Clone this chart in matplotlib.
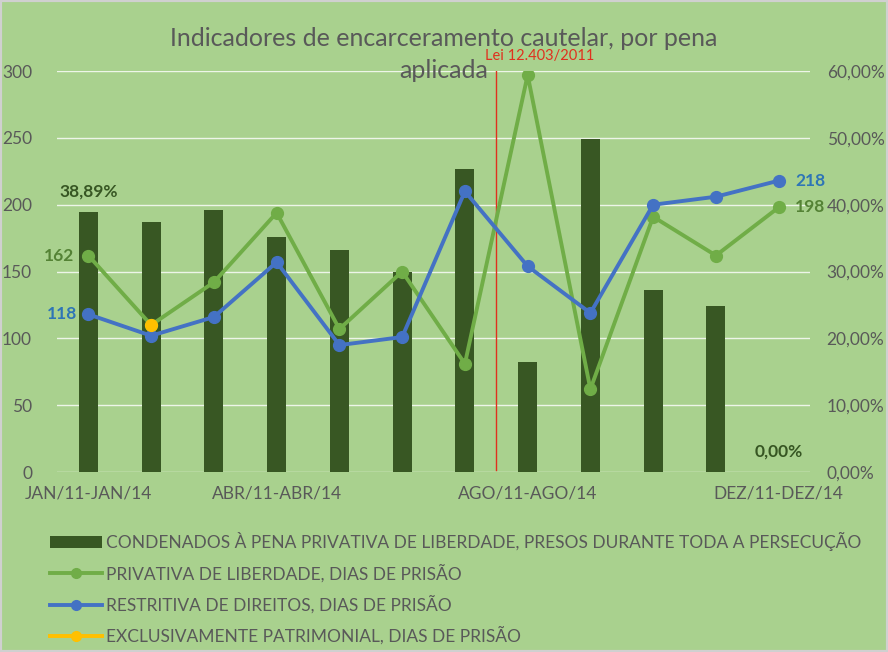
import matplotlib
matplotlib.use('Agg')
import matplotlib.pyplot as plt
from matplotlib.patches import Patch, Rectangle
from matplotlib.lines import Line2D
import numpy as np

plt.rcParams['font.family'] = ['Lato', 'DejaVu Sans']

# data
categories = ['JAN/11-JAN/14', 'FEV', 'MAR', 'ABR/11-ABR/14', 'MAI', 'JUN',
              'JUL', 'AGO/11-AGO/14', 'SET', 'OUT', 'NOV', 'DEZ/11-DEZ/14']
shown_ticks = [0, 3, 7, 11]
condenados_pct = [38.89, 37.4, 39.2, 35.2, 33.2, 30.0, 45.4, 16.4, 49.8, 27.2, 24.8, 0.0]
privativa_dias = [162, 110, 142, 194, 107, 150, 81, 297, 62, 191, 162, 198]
restritiva_dias = [118, 102, 116, 157, 95, 101, 210, 154, 119, 200, 206, 218]
patrimonial_idx = [1]
patrimonial_dias = [110]
lei_pos = 6.5

BG = '#a9d18e'
BAR = '#385723'
GREEN = '#70ad47'
BLUE = '#4472c4'
YELLOW = '#ffc000'
GRAY = '#595959'

fig = plt.figure(figsize=(8.88, 6.52), dpi=100, facecolor=BG)
fig.patches.append(Rectangle((0, 0), 1, 1, transform=fig.transFigure, fill=False,
                             edgecolor='#d0d0d0', linewidth=3))

ax = fig.add_axes([0.0642, 0.276, 0.848, 0.615])
ax.set_facecolor(BG)
x = np.arange(len(categories))

# bars on the percent scale (right side)
ax.bar(x, condenados_pct, width=0.3, color=BAR, zorder=2)
ax.set_ylim(0, 60)
ax.set_xlim(-0.5, len(categories) - 0.5)
ax.set_yticks(range(0, 61, 10))
ax.set_yticklabels([f'{v},00%' for v in range(0, 61, 10)])
ax.grid(axis='y', color='white', linewidth=1, alpha=0.8)
ax.set_axisbelow(True)
ax.set_xticks(shown_ticks)
ax.set_xticklabels([categories[i] for i in shown_ticks])
ax.tick_params(length=0, labelsize=12.5, labelcolor=GRAY)
ax.tick_params(axis='x', pad=10)
for s in ax.spines.values():
    s.set_visible(False)

# lines on the days scale (left side)
ax2 = ax.twinx()
ax2.set_ylim(0, 300)
ax2.yaxis.tick_left()
ax.yaxis.tick_right()
ax.tick_params(axis='y', length=0, labelsize=12.5, labelcolor=GRAY, pad=12)
ax2.set_yticks(range(0, 301, 50))
ax2.tick_params(length=0, labelsize=12.5, labelcolor=GRAY, pad=18)
for s in ax2.spines.values():
    s.set_visible(False)

ax2.axvline(lei_pos, ymin=0.005, ymax=1.0, color='#e0301e', linewidth=1)
ax2.text(lei_pos - 0.18, 306, 'Lei 12.403/2011', color='#e0301e', fontsize=10.5,
         ha='left', va='bottom')

ax2.plot(x, privativa_dias, color=GREEN, linewidth=2.8, marker='o', markersize=8.5, zorder=3)
ax2.plot(x, restritiva_dias, color=BLUE, linewidth=2.8, marker='o', markersize=8.5, zorder=4)
ax2.plot(patrimonial_idx, patrimonial_dias, color=YELLOW, linewidth=2.8, marker='o',
         markersize=8.5, zorder=5)

# data labels
lbl = dict(fontsize=12.5, fontweight='bold', textcoords='offset points')
ax.annotate(f'{condenados_pct[0]:.2f}%'.replace('.', ','), (0, condenados_pct[0]),
            xytext=(0, 9), ha='center', va='bottom', color='#375623', **lbl)
ax.annotate(f'{condenados_pct[-1]:.2f}%'.replace('.', ','), (11, condenados_pct[-1]),
            xytext=(0, 9), ha='center', va='bottom', color='#375623', **lbl)
ax2.annotate(str(privativa_dias[0]), (0, privativa_dias[0]), xytext=(-10, 0),
             ha='right', va='center', color='#548235', **lbl)
ax2.annotate(str(restritiva_dias[0]), (0, restritiva_dias[0]), xytext=(-8, 0),
             ha='right', va='center', color='#2e75b6', **lbl)
ax2.annotate(str(restritiva_dias[-1]), (11, restritiva_dias[-1]), xytext=(12, 0),
             ha='left', va='center', color='#2e75b6', **lbl)
ax2.annotate(str(privativa_dias[-1]), (11, privativa_dias[-1]), xytext=(12, 0),
             ha='left', va='center', color='#548235', **lbl)

# title, two lines
fig.text(0.5, 1 - 38 / 652, 'Indicadores de encarceramento cautelar, por pena',
         ha='center', va='center', fontsize=18, color=GRAY)
fig.text(0.5, 1 - 70 / 652, 'aplicada',
         ha='center', va='center', fontsize=18, color=GRAY)

handles = [
    Patch(facecolor=BAR),
    Line2D([], [], color=GREEN, linewidth=2.8, marker='o', markersize=7),
    Line2D([], [], color=BLUE, linewidth=2.8, marker='o', markersize=7),
    Line2D([], [], color=YELLOW, linewidth=2.8, marker='o', markersize=7),
]
labels = ['CONDENADOS À PENA PRIVATIVA DE LIBERDADE, PRESOS DURANTE TODA A PERSECUÇÃO',
          'PRIVATIVA DE LIBERDADE, DIAS DE PRISÃO',
          'RESTRITIVA DE DIREITOS, DIAS DE PRISÃO',
          'EXCLUSIVAMENTE PATRIMONIAL, DIAS DE PRISÃO']
leg = fig.legend(handles, labels, loc='upper left', bbox_to_anchor=(0.048, 0.195),
                 frameon=False, fontsize=12.5, labelcolor=GRAY, handlelength=3.0,
                 handletextpad=0.25, labelspacing=0.75, borderaxespad=0)

fig.savefig('out.png', dpi=100, facecolor=BG)
